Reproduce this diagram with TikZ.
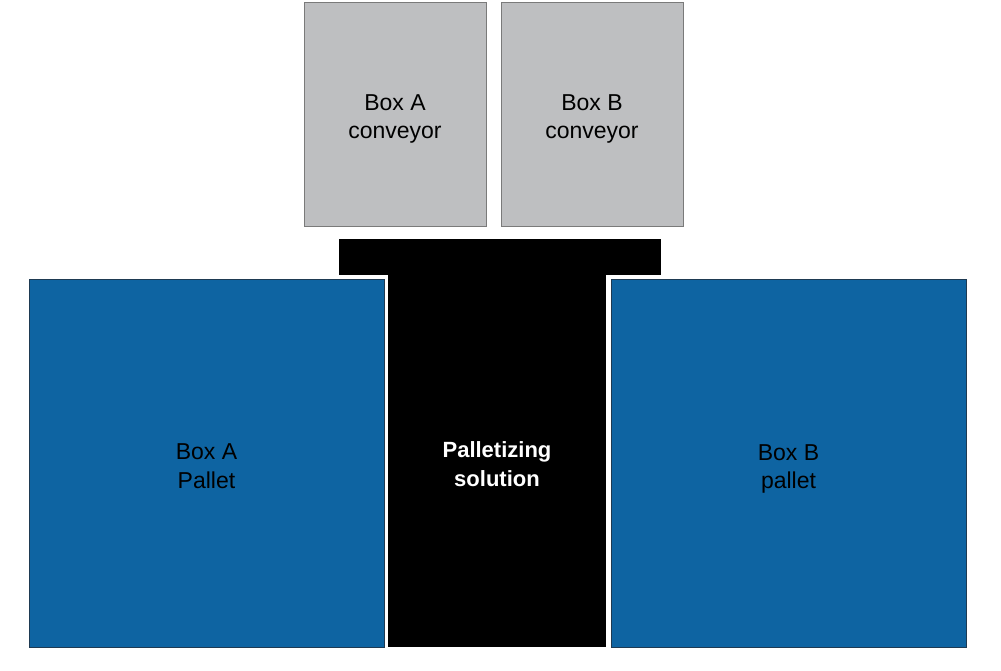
\documentclass[tikz,border=0pt]{standalone}
\usepackage{fontspec}
\setmainfont{Liberation Sans}
\usetikzlibrary{positioning}
\definecolor{convgrey}{HTML}{BEBFC1}
\definecolor{convedge}{HTML}{7A7A7A}
\definecolor{palblue}{HTML}{0E64A2}
\definecolor{paledge}{HTML}{1E3A52}

\begin{document}
\begin{tikzpicture}[x=1pt,y=-1pt,
  conveyor/.style={draw=convedge,fill=convgrey,line width=1pt,inner sep=0pt,
    minimum width=182pt,minimum height=224pt},
  pallet/.style={draw=paledge,fill=palblue,line width=1pt,inner sep=0pt,
    minimum width=355pt,minimum height=368pt},
  robot/.style={fill=black,inner sep=0pt},
  caption/.style={inner sep=0pt,align=center,font=\fontsize{23}{28.5}\selectfont}]
\useasboundingbox (0,0) rectangle (1001,671);
%\draw[pink] (0,0) rectangle (1001,671);
\node[conveyor] (convA) at (395,115) {};
\node[conveyor] (convB) at (592,115) {};
\node[robot,minimum width=322pt,minimum height=36pt] (arm) at (500,257) {};
\node[robot,minimum width=218pt,minimum height=372pt] (base) at (497,461) {};
\node[pallet] (palA) at (206.5,463) {};
\node[pallet] (palB) at (788.5,463) {};
% captions
\node[caption] (convAtext) at (395,119) {Box A\\conveyor};
\node[caption] (convBtext) at (592,119) {Box B\\conveyor};
\node[caption,text=white,font=\fontsize{22}{28.5}\selectfont\bfseries] (basetext) at (497,464) {Palletizing\\solution};
\node[caption] (palAtext) at (206.5,466) {Box A\\Pallet};
\node[caption] (palBtext) at (788.5,469) {Box B\\pallet};
\end{tikzpicture}
\end{document}
